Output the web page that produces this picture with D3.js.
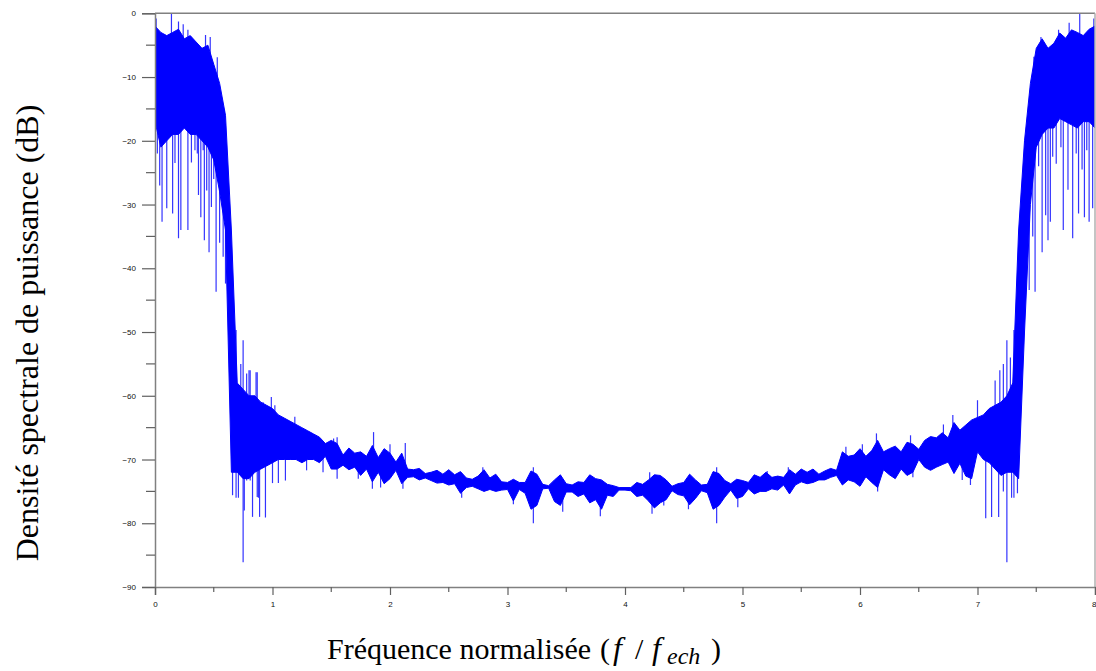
<!DOCTYPE html>
<html><head><meta charset="utf-8">
<script src="https://cdn.jsdelivr.net/npm/d3@7"></script>
<style>body{margin:0;background:#fff}svg{display:block}</style>
</head><body>
<svg id="c" width="1096" height="671"></svg>
<script>
// ---- data (dB) ----
const freqStep = 0.05; // frequency grid step of the envelope arrays (f/fech)
// dense core of the spectrum: upper edge
const coreHi = [
 -2,-3,-3.5,-3,-2.5,-4,-3.5,-4.5,-5.5,-5,
 -8,-11,-16,-34,-58,-59,-60,-60,-61,-61.5,
 -62,-63,-63.5,-64,-64.5,-65,-65.5,-66,-66.5,-67.5,
 -67,-67.5,-69.3,-68.2,-69,-68.8,-69.5,-67.8,-69.7,-68.3,
 -69,-70.4,-69,-71.5,-71.6,-71.4,-72.2,-72,-71.7,-72.3,
 -71.6,-72.4,-71.9,-72.9,-73.1,-72.6,-71.6,-72.9,-72.3,-73.5,
 -73.6,-73.1,-73.6,-73.6,-71.8,-72.3,-73.9,-74.1,-73.2,-72.4,
 -73.8,-74,-73.5,-73.6,-72.4,-73,-73.2,-73.9,-74.1,-74.4,
 -74.4,-74.4,-73.6,-73.9,-73.2,-72.4,-72.5,-73.2,-74.2,-73.8,
 -73.6,-72.3,-73.2,-74,-73.9,-71.9,-72.2,-73.3,-73.8,-73.1,
 -73.3,-73.6,-72.4,-72.8,-72,-72.8,-72.6,-72.8,-71.6,-72.3,
 -71.5,-72,-71.5,-72.3,-71.8,-71.4,-71.7,-68.8,-69.5,-69.3,
 -68.3,-69.5,-68.6,-67,-68.8,-68.3,-67.9,-68.8,-67.3,-67.6,
 -68.4,-67,-66.4,-66.6,-65.8,-66.6,-64.2,-65.4,-64.6,-63.8,
 -63.4,-63,-62,-61.5,-61,-60,-58,-34,-20,-11,
 -5.5,-4,-5.5,-4.7,-3.1,-3.9,-2.6,-3,-3.5,-2.5,
 -2
];
// dense core of the spectrum: lower edge
const coreLo = [
 -17,-21,-20,-19,-19,-18,-19,-19,-20,-21,
 -23,-28,-34,-72,-72,-73,-73,-72,-71.5,-71,
 -70.5,-70,-70,-70,-70,-70.5,-70,-70,-70.5,-69.5,
 -71.5,-71.5,-70.9,-71.6,-71.2,-72.5,-71.5,-73.5,-72,-73.8,
 -73,-71.7,-73.8,-72.8,-72.7,-73.2,-72.9,-73.3,-73.7,-73.6,
 -74,-73.8,-75.3,-74.4,-74.2,-74.6,-75,-74.7,-75,-74.8,
 -74.7,-76.5,-74.7,-75.3,-77.8,-77.2,-74.6,-74.5,-76.6,-77.2,
 -75.1,-75.1,-75.8,-75.4,-76.8,-76.3,-77.8,-75.6,-75.8,-74.8,
 -74.8,-74.9,-75.8,-75.6,-76.5,-77.6,-76.8,-76.3,-74.9,-75.5,
 -75.7,-77.1,-76.1,-74.9,-75.2,-77.8,-77.2,-75.9,-74.8,-76.1,
 -75.8,-74.6,-75.4,-75,-75,-74.6,-74.8,-74,-75.4,-74,
 -73.5,-73.8,-73.6,-73.2,-73.2,-72.8,-72.5,-74,-73.2,-73.5,
 -74.2,-72.7,-73.6,-74.4,-71.6,-72.4,-73,-71.5,-72.5,-72,
 -70,-71.2,-71.7,-71.2,-70.8,-70.4,-72.2,-70.6,-72.6,-73,
 -68.8,-70,-70.5,-71.5,-72.5,-72,-72,-73,-50,-30,
 -21,-19,-18,-18,-16.5,-17,-17.5,-18,-17,-17,
 -18
];
// isolated spikes: [frequency, dB]
const spikes = [
 [0.01,-0.8],[0.14,0],[0.20,-1.3],[0.24,-1.7],[0.28,-2.6],[0.43,-3.4],[0.47,-3.7],[0.53,-6.9],[0.59,-15.2],
 [0.04,-27],[0.06,-32.7],[0.10,-30.6],[0.15,-31.4],[0.20,-35.3],[0.22,-34],[0.28,-34],[0.37,-28.5],
 [0.39,-32],[0.42,-35.6],[0.44,-27.8],[0.46,-37.5],[0.48,-30.4],[0.52,-43.7],[0.55,-36],[0.58,-38.2],[0.60,-42.4],
 [0.02,-22],[0.09,-20],[0.17,-23.5],[0.31,-23.4],[0.34,-21.5],[0.36,-22],[0.41,-21.5],[0.50,-26],
 [0.68,-51.8],[0.69,-49.7],[0.73,-55],[0.75,-51.3],[0.78,-56.5],[0.80,-56],[0.81,-56],[0.86,-56.3],[0.87,-56.3],
 [0.92,-61],[0.99,-60.2],[1.02,-61.5],[1.19,-63.3],[1.52,-66.7],[1.55,-66.5],[1.86,-65.7],
 [0.66,-75.6],[0.69,-76],[0.71,-76],[0.75,-86.1],[0.76,-78],[0.78,-73.3],[0.81,-73.3],[0.83,-79],[0.87,-75.9],
 [0.88,-76],[0.89,-79],[0.94,-79.1],[1.00,-73.7],[1.05,-73.7],[1.11,-73.3],[1.29,-71.7],[1.43,-72],[1.55,-73],
 [1.73,-73],[1.85,-74.6],[1.92,-74.4],[2.00,-67.6],[2.11,-74.6],[2.13,-67.4],[2.61,-76],[2.79,-71.2],
 [3.05,-77],[3.22,-80],[3.22,-71.2],[3.47,-78.2],[3.79,-78.9],[4.21,-72],[4.23,-78.5],[4.33,-77.2],
 [4.54,-77.8],[4.78,-80],[4.78,-71.2],[4.96,-77.5],[5.21,-71.8],[5.39,-71.2],[5.88,-68],[6.02,-67.6],
 [6.14,-65.9],[6.15,-75],[6.43,-66.2],[6.45,-72.8],[6.71,-64.5],
 [6.79,-63],[7.00,-60.7],[7.15,-57.6],[7.19,-56],[7.22,-55],[7.25,-51.3],[7.28,-54],[7.31,-49.7],
 [6.87,-73.2],[6.94,-74],[7.07,-79.2],[7.12,-79],[7.18,-79],[7.22,-75],[7.25,-86.1],[7.29,-76],[7.31,-76],[7.34,-75.3],
 [7.46,-11],[7.48,-6.8],[7.54,-3.7],[7.69,-2.6],[7.78,-1.5],[7.87,0],[7.99,-0.8],
 [7.41,-43],[7.44,-43.4],[7.47,-35],[7.49,-43.7],[7.55,-37.5],[7.58,-31.7],[7.60,-35.6],[7.62,-32.7],
 [7.67,-23.6],[7.73,-34],[7.77,-27.7],[7.81,-35.3],[7.86,-31.4],[7.91,-32],[7.95,-32.7],[7.98,-30.6],
 [7.52,-24],[7.64,-22.5],[7.71,-21],[7.84,-22],[7.89,-24.5],[7.93,-21.5]
];
const xTicks = [0,1,2,3,4,5,6,7,8];
const xMinorTicks = [0.5,1.5,2.5,3.5,4.5,5.5,6.5,7.5];
const yTicks = [-90,-80,-70,-60,-50,-40,-30,-20,-10,0];
const yMinorTicks = [-85,-75,-65,-55,-45,-35,-25,-15,-5];
const xTitle = "Fréquence normalisée";
const yTitle = "Densité spectrale de puissance (dB)";

// ---- drawing ----
const svg = d3.select("#c");
const L = 155, R = 1095, T = 13.3, B = 587;
const x = d3.scaleLinear().domain([0, 8]).range([L, R]);
const y = d3.scaleLinear().domain([-90, 0]).range([B, T]);
const freqs = coreHi.map((_, i) => i * freqStep);
const core = freqs.map((f, i) => ({f, hi: coreHi[i], lo: coreLo[i]}));

const blue = "#0000ff", grey = "#808080";

svg.append("clipPath").attr("id", "clip").append("rect")
  .attr("x", L).attr("y", T - 1).attr("width", R - L).attr("height", B - T + 1);
const plot = svg.append("g").attr("clip-path", "url(#clip)");

plot.append("path").datum(core)
  .attr("d", d3.area().x(d => x(d.f)).y0(d => y(d.lo)).y1(d => y(d.hi)))
  .attr("fill", blue).attr("stroke", blue).attr("stroke-width", 1);

const midAt = f => {
  const i = Math.min(core.length - 2, Math.floor(f / freqStep));
  const t = (f - core[i].f) / freqStep;
  const m0 = (core[i].hi + core[i].lo) / 2, m1 = (core[i+1].hi + core[i+1].lo) / 2;
  return m0 + (m1 - m0) * t;
};
plot.selectAll("line.spk").data(spikes).join("line").attr("class", "spk")
  .attr("x1", d => x(d[0])).attr("x2", d => x(d[0]))
  .attr("y1", d => y(midAt(d[0]))).attr("y2", d => y(d[1]))
  .attr("stroke", blue).attr("stroke-width", 1.2).attr("stroke-opacity", 0.8);

// frame
svg.append("line").attr("x1", L).attr("x2", R).attr("y1", T).attr("y2", T)
  .attr("stroke", grey).attr("stroke-width", 1.5);
svg.append("line").attr("x1", R).attr("x2", R).attr("y1", T).attr("y2", B)
  .attr("stroke", "#b0b0b0").attr("stroke-width", 1.5);

const fontAxis = "'Liberation Sans', Arial, sans-serif";
// Y axis
const gy = svg.append("g").attr("transform", `translate(${L},0)`)
  .call(d3.axisLeft(y).tickValues(yTicks).tickSize(13).tickPadding(6).tickFormat(d3.format("d")));
gy.append("g").selectAll("line").data(yMinorTicks).join("line")
  .attr("x1", -9).attr("x2", 0).attr("y1", d => y(d)).attr("y2", d => y(d));
// X axis
const gx = svg.append("g").attr("transform", `translate(0,${B})`)
  .call(d3.axisBottom(x).tickValues(xTicks).tickSize(8).tickPadding(6).tickFormat(d3.format("d")));
gx.append("g").selectAll("line").data(xMinorTicks).join("line")
  .attr("x1", d => x(d)).attr("x2", d => x(d)).attr("y1", 0).attr("y2", 5);
gx.selectAll(".tick text").filter(d => d === 8).attr("text-anchor", "end").attr("dx", 1);

[gx, gy].forEach(g => {
  g.select(".domain").attr("stroke", grey).attr("stroke-width", 1.5);
  g.selectAll("line").attr("stroke", "#606060").attr("stroke-width", 1.2);
  g.selectAll("text").attr("font-family", fontAxis).attr("font-size", 8).attr("fill", "#111");
});

// titles
const serif = "'Liberation Serif', 'Times New Roman', serif";
svg.append("text").attr("transform", "translate(38,333) rotate(-90)")
  .attr("text-anchor", "middle").attr("font-family", serif).attr("font-size", 32)
  .attr("fill", "#000").text(yTitle);

const xt = svg.append("text").attr("x", 327).attr("y", 659)
  .attr("font-family", serif).attr("font-size", 30).attr("fill", "#000");
xt.append("tspan").text(xTitle);
xt.append("tspan").attr("x", 600).text("(");
xt.append("tspan").attr("x", 613).attr("font-style", "italic").attr("font-size", 32).text("f");
xt.append("tspan").attr("x", 635).text("/");
xt.append("tspan").attr("x", 652).attr("font-style", "italic").attr("font-size", 32).text("f");
xt.append("tspan").attr("x", 667).attr("font-style", "italic").attr("font-size", 24).attr("dy", 5).text("ech");
xt.append("tspan").attr("x", 711).attr("dy", -5).text(")");
</script>
</body></html>
